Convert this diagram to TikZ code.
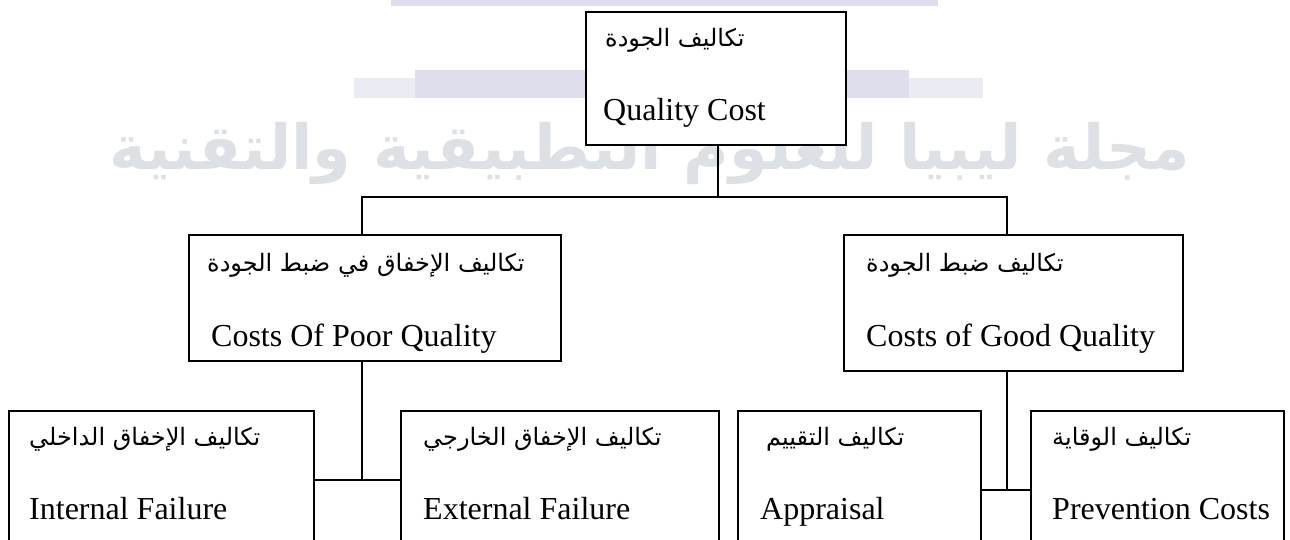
\documentclass[tikz,border=0pt]{standalone}
\usepackage{fontspec}
\setmainfont{Liberation Serif}
\newfontfamily\arabicfont[Script=Arabic]{DejaVu Sans}
\TeXXeTstate=1
\definecolor{wmtext}{RGB}{221,225,229}
\definecolor{wmband}{RGB}{222,222,236}
\begin{document}
\begin{tikzpicture}[x=1pt,y=-1pt,
  costbox/.style={draw=black, line width=1.6pt, fill=white, anchor=north west,
    inner sep=0pt, outer sep=0pt},
  artext/.style={anchor=west, inner sep=0pt, font=\arabicfont\fontsize{24}{28}\selectfont},
  entext/.style={anchor=base west, inner sep=0pt, font=\fontsize{32}{36}\selectfont},
  link/.style={draw=black, line width=1.6pt}]
\useasboundingbox (0,0) rectangle (1290,540);
\clip (0,0) rectangle (1290,540);
% watermark
\fill[wmband] (391,0) rectangle (938,6);
\fill[wmband!60] (354,78) rectangle (983,98);
\fill[wmband] (415,70) rectangle (909,98);
\node[text=wmtext, inner sep=0pt] (wm) at (650,153)
  {\resizebox{1080pt}{!}{\arabicfont\bfseries\beginR مجلة ليبيا للعلوم التطبيقية والتقنية\endR}};
% boxes
\node[costbox, minimum width=260pt, minimum height=133pt] (top) at (586,12) {};
\node[costbox, minimum width=372pt, minimum height=126pt] (lmid) at (189,235) {};
\node[costbox, minimum width=339pt, minimum height=136pt] (rmid) at (844,235) {};
\node[costbox, minimum width=305pt, minimum height=150pt] (intf) at (9,411) {};
\node[costbox, minimum width=318pt, minimum height=150pt] (extf) at (401,411) {};
\node[costbox, minimum width=243pt, minimum height=150pt] (appr) at (738,411) {};
\node[costbox, minimum width=253pt, minimum height=150pt] (prev) at (1031,411) {};
% texts
\node[artext] (topA) at ([xshift=19pt,yshift=-28pt]top.north west) {\beginR تكاليف الجودة\endR};
\node[entext] (topE) at ([xshift=17pt,yshift=-109pt]top.north west) {Quality Cost};
\node[artext] (lmidA) at ([xshift=18pt,yshift=-30pt]lmid.north west) {\beginR تكاليف الإخفاق في ضبط الجودة\endR};
\node[entext] (lmidE) at ([xshift=22pt,yshift=-111pt]lmid.north west) {Costs Of Poor Quality};
\node[artext] (rmidA) at ([xshift=22pt,yshift=-30pt]rmid.north west) {\beginR تكاليف ضبط الجودة\endR};
\node[entext] (rmidE) at ([xshift=22pt,yshift=-111pt]rmid.north west) {Costs of Good Quality};
\node[artext] (intfA) at ([xshift=20pt,yshift=-28pt]intf.north west) {\beginR تكاليف الإخفاق الداخلي\endR};
\node[entext] (intfE) at ([xshift=20pt,yshift=-108pt]intf.north west) {Internal Failure};
\node[artext] (extfA) at ([xshift=22pt,yshift=-28pt]extf.north west) {\beginR تكاليف الإخفاق الخارجي\endR};
\node[entext] (extfE) at ([xshift=22pt,yshift=-108pt]extf.north west) {External Failure};
\node[artext] (apprA) at ([xshift=28pt,yshift=-28pt]appr.north west) {\beginR تكاليف التقييم\endR};
\node[entext] (apprE) at ([xshift=22pt,yshift=-108pt]appr.north west) {Appraisal};
\node[artext] (prevA) at ([xshift=21pt,yshift=-28pt]prev.north west) {\beginR تكاليف الوقاية\endR};
\node[entext] (prevE) at ([xshift=21pt,yshift=-108pt]prev.north west) {Prevention Costs};
% connectors
\coordinate (jl) at (362,197);
\coordinate (jr) at (1007,197);
\coordinate (jl2) at (362,480);
\coordinate (jr2) at (1007,490);
\draw[link] (top.south -| 718,0) -- (jl -| 718,0);
\draw[link] (jl |- lmid.north) -- (jl) -- (jr) -- (jr |- rmid.north);
\draw[link] (jl |- lmid.south) -- (jl2);
\draw[link] (intf.east |- jl2) -- (extf.west |- jl2);
\draw[link] (jr |- rmid.south) -- (jr2);
\draw[link] (appr.east |- jr2) -- (prev.west |- jr2);
\end{tikzpicture}
\end{document}
